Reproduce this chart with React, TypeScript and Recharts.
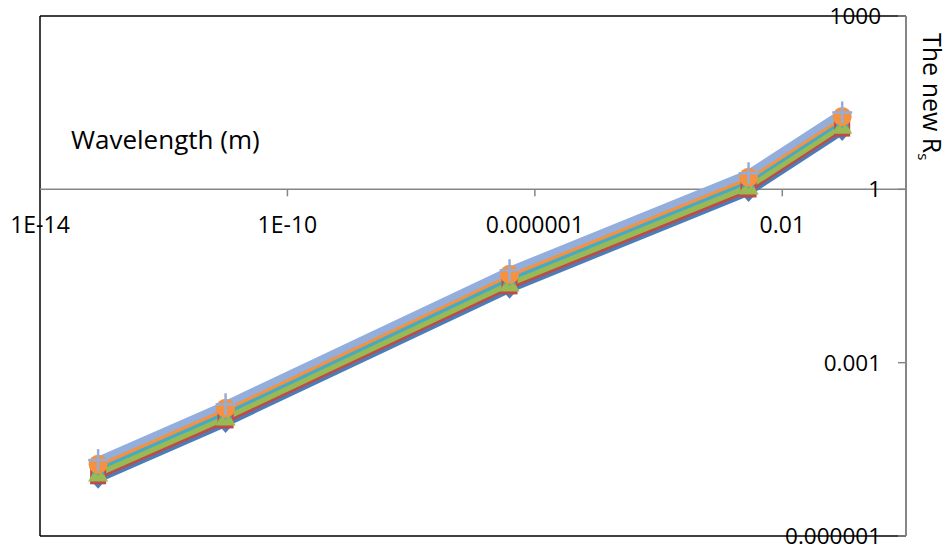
import { ScatterChart, Scatter, XAxis, YAxis, ReferenceLine } from "recharts";

// wavelengths (m), one per point
const wavelengths = [8.7e-14, 1.0e-11, 3.9e-7, 2.85e-3, 0.093];

// the new Rs for each series
const blueVals = [9.4e-6, 8.7e-5, 0.0182, 0.867, 9.8];
const redVals = [1.08e-5, 1.0e-4, 0.0209, 0.995, 11.25];
const greenVals = [1.21e-5, 1.12e-4, 0.0234, 1.117, 12.6];
const tealVals = [1.49e-5, 1.38e-4, 0.0288, 1.374, 15.5];
const orangeVals = [1.75e-5, 1.62e-4, 0.0339, 1.614, 18.2];
const lightBlueVals = [2.06e-5, 1.9e-4, 0.0398, 1.897, 21.4];

const xTicks = [1e-14, 1e-10, 1e-6, 1e-2];
const xTickLabels = ["1E-14", "1E-10", "0.000001", "0.01"];
const yTicks = [1e-6, 1e-3, 1, 1000];
const yTickLabels = ["0.000001", "0.001", "1", "1000"];

const W = 952;
const H = 549;
const M = { top: 16, right: 46, bottom: 12, left: 40 };
const PLOT_H = H - M.top - M.bottom - 1;
// x axis crosses the value axis at 1 (3 of the 9 decades down from the top)
const AXIS_Y = M.top + (PLOT_H * (Math.log10(1000) - Math.log10(1))) / (Math.log10(1000) - Math.log10(1e-6));

const AXIS_GRAY = "#868686";
const FONT = "'Open Sans', sans-serif";

const toPoints = (vals: number[]) => wavelengths.map((x, i) => ({ x, y: vals[i] }));

type Kind = "diamond" | "square" | "triangle" | "star" | "circle" | "plus";

const series: { name: string; vals: number[]; color: string; width: number; kind: Kind }[] = [
  { name: "s1", vals: blueVals, color: "#4A7EBB", width: 6, kind: "diamond" },
  { name: "s2", vals: redVals, color: "#BE4B48", width: 6, kind: "square" },
  { name: "s3", vals: greenVals, color: "#98B954", width: 6, kind: "triangle" },
  { name: "s4", vals: tealVals, color: "#46AAC5", width: 5, kind: "star" },
  { name: "s5", vals: orangeVals, color: "#F59242", width: 6, kind: "circle" },
  { name: "s6", vals: lightBlueVals, color: "#93AEDB", width: 7, kind: "plus" },
];

function Marker({ cx, cy, kind, color }: { cx: number; cy: number; kind: Kind; color: string }) {
  if (cx == null || cy == null) return null;
  switch (kind) {
    case "diamond":
      return <path d={`M${cx},${cy - 9}L${cx + 8},${cy}L${cx},${cy + 9}L${cx - 8},${cy}Z`} fill={color} />;
    case "square":
      return <rect x={cx - 8} y={cy - 8} width={16} height={16} fill={color} />;
    case "triangle":
      return <path d={`M${cx},${cy - 10}L${cx + 10},${cy + 8}L${cx - 10},${cy + 8}Z`} fill={color} />;
    case "star":
      return (
        <g stroke={color} strokeWidth={2}>
          <line x1={cx - 6} y1={cy - 6} x2={cx + 6} y2={cy + 6} />
          <line x1={cx - 6} y1={cy + 6} x2={cx + 6} y2={cy - 6} />
          <line x1={cx} y1={cy - 7} x2={cx} y2={cy + 7} />
        </g>
      );
    case "circle":
      return <circle cx={cx} cy={cy} r={9.5} fill={color} />;
    case "plus":
      return (
        <g stroke={color} strokeWidth={2.5}>
          <line x1={cx - 10} y1={cy} x2={cx + 10} y2={cy} />
          <line x1={cx} y1={cy - 11} x2={cx} y2={cy + 11} />
        </g>
      );
  }
  return null;
}

const NoMarker = () => <g />;

const XTick = (props: any) => {
  const { x, payload } = props;
  const i = xTicks.findIndex((t) => Math.abs(Math.log10(t) - Math.log10(payload.value)) < 1e-6);
  return (
    <g>
      {i > 0 && <line x1={x} x2={x} y1={AXIS_Y} y2={AXIS_Y + 7} stroke={AXIS_GRAY} strokeWidth={1.5} />}
      <text x={x} y={AXIS_Y + 44} textAnchor="middle" fontSize={23} fill="#000" fontFamily={FONT}>
        {i >= 0 ? xTickLabels[i] : ""}
      </text>
    </g>
  );
};

const fmtY = (v: number) => {
  const i = yTicks.findIndex((t) => Math.abs(Math.log10(t) - Math.log10(v)) < 1e-6);
  return i >= 0 ? yTickLabels[i] : "";
};

const XTitle = () => (
  <text x={71} y={149} fontSize={26} fill="#000" fontFamily={FONT}>
    Wavelength (m)
  </text>
);

const YTitle = () => (
  <text x={923} y={33} transform="rotate(90, 923, 33)" fontSize={25} fill="#000" fontFamily={FONT}>
    The new R
    <tspan fontSize={15} dy={5}>
      s
    </tspan>
  </text>
);

export default function App() {
  return (
    <div style={{ position: "absolute", left: 0, top: 0, width: W, height: H, background: "#fff", fontFamily: FONT }}>
      <ScatterChart width={W} height={H} margin={M}>
        <XAxis
          type="number"
          dataKey="x"
          scale="log"
          domain={[1e-14, 1]}
          allowDataOverflow
          ticks={xTicks}
          interval={0}
          axisLine={false}
          tickLine={false}
          tick={<XTick />}
          height={1}
          label={<XTitle />}
        />
        <YAxis
          type="number"
          dataKey="y"
          scale="log"
          domain={[1e-6, 1000]}
          allowDataOverflow
          ticks={yTicks}
          interval={0}
          orientation="right"
          mirror
          width={1}
          tickSize={8}
          tickMargin={17}
          tickFormatter={fmtY}
          tick={{ fill: "#000", fontSize: 22.5, fontFamily: FONT }}
          tickLine={{ stroke: AXIS_GRAY, strokeWidth: 1.5 }}
          axisLine={{ stroke: AXIS_GRAY, strokeWidth: 2 }}
          label={<YTitle />}
        />
        <ReferenceLine x={1e-14} stroke="#000" strokeWidth={1.5} />
        <ReferenceLine y={1000} stroke="#000" strokeWidth={1.5} />
        <ReferenceLine y={1e-6} stroke="#000" strokeWidth={1.5} />
        <ReferenceLine y={1} stroke={AXIS_GRAY} strokeWidth={1.5} />
        {series.map((s) => (
          <Scatter
            key={s.name + "-line"}
            name={s.name + "-line"}
            data={toPoints(s.vals)}
            fill={s.color}
            line={{ stroke: s.color, strokeWidth: s.width }}
            lineJointType="linear"
            isAnimationActive={false}
            shape={<NoMarker />}
          />
        ))}
        {series.map((s) => (
          <Scatter
            key={s.name}
            name={s.name}
            data={toPoints(s.vals)}
            fill={s.color}
            isAnimationActive={false}
            shape={(p: any) => <Marker cx={p.cx} cy={p.cy} kind={s.kind} color={s.color} />}
          />
        ))}
      </ScatterChart>
    </div>
  );
}
